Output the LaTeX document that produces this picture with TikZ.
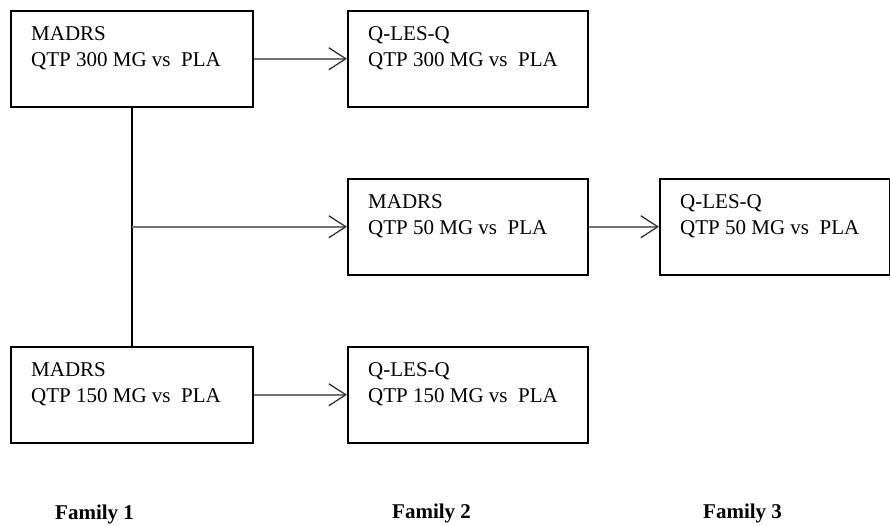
\documentclass[tikz,border=0pt]{standalone}
\usepackage{fontspec}
\setmainfont{Liberation Serif}
\usetikzlibrary{arrows.meta}
\begin{document}
\begin{tikzpicture}[x=1pt,y=-1pt,
  box/.style={draw=black, line width=1.5pt, rectangle, minimum width=242pt, minimum height=96pt, anchor=north west, inner sep=0pt},
  txt/.style={anchor=base west, inner sep=0pt, font=\fontsize{21}{25}\selectfont},
  fam/.style={anchor=base west, inner sep=0pt, font=\fontsize{21}{25}\selectfont\bfseries},
  link/.style={draw=black!55, line width=1.8pt},
  flow/.style={link, -{Straight Barb[length=17pt, width=22pt, line width=1.3pt, color=black!80]}},
  trunk/.style={draw=black, line width=1.5pt}
]
\useasboundingbox (0,0) rectangle (890,525);

% Boxes
\node[box] (m300) at (10,10) {};
\node[box, minimum width=240pt] (q300) at (347,10) {};
\node[box, minimum width=240pt] (m50) at (347,178) {};
\node[box, minimum width=230pt] (q50) at (659,178) {};
\node[box] (m150) at (10,346) {};
\node[box, minimum width=240pt] (q150) at (347,346) {};

% Box texts
\newcommand{\boxtext}[3]{%
  \node[txt] (#1a) at ([xshift=21pt,yshift=-30pt]#1.north west) {#2};
  \node[txt] (#1b) at ([xshift=21pt,yshift=-56pt]#1.north west) {#3};}
\boxtext{m300}{MADRS}{QTP 300 MG vs~ PLA}
\boxtext{q300}{Q-LES-Q}{QTP 300 MG vs~ PLA}
\boxtext{m50}{MADRS}{QTP 50 MG vs~ PLA}
\boxtext{q50}{Q-LES-Q}{QTP 50 MG vs~ PLA}
\boxtext{m150}{MADRS}{QTP 150 MG vs~ PLA}
\boxtext{q150}{Q-LES-Q}{QTP 150 MG vs~ PLA}

% Connectors
\coordinate (branch) at (m300.south |- m50.west);
\draw[trunk] (m300.south) -- (m150.north);
\draw[flow] (m300.east) -- (q300.west);
\draw[flow] (branch) -- (m50.west);
\draw[flow] (m50.east) -- (q50.west);
\draw[flow] (m150.east) -- (q150.west);

% Family labels
\node[fam] (f1) at (55,519) {Family 1};
\node[fam] (f2) at (392,518) {Family 2};
\node[fam] (f3) at (703,518) {Family 3};
\end{tikzpicture}
\end{document}
